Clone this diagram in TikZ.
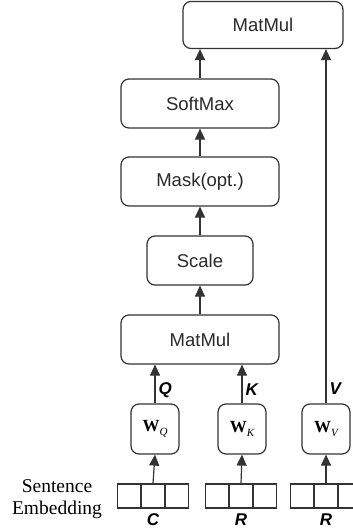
\documentclass[tikz,border=0pt]{standalone}
\usepackage{fontspec}
\setmainfont{Liberation Serif}
\setsansfont{Liberation Sans}
\usetikzlibrary{arrows.meta}
\definecolor{ink}{HTML}{333333}
\newcommand{\wsym}[1]{{\bfseries W}\raisebox{-3.5pt}{\fontsize{11}{12}\selectfont\itshape #1}}
\tikzset{
  opbox/.style={draw=ink, line width=1.2pt, rounded corners=8pt, inner sep=0pt, font=\sffamily\fontsize{18.5}{22}\selectfont, text=ink!80!black},
  wbox/.style={draw=ink, line width=1.2pt, rounded corners=8pt, inner sep=0pt, minimum width=48pt, minimum height=50pt, font=\fontsize{17}{20}\selectfont},
  cell/.style={draw=ink, line width=1.2pt, minimum width=22.7pt, minimum height=24pt, inner sep=0pt},
  flow/.style={draw=ink, line width=1.2pt, -{Triangle[width=10pt,length=11pt]}},
  vlab/.style={font=\sffamily\bfseries\itshape\fontsize{17}{20}\selectfont, inner sep=0pt},
  serlab/.style={font=\fontsize{19.5}{22}\selectfont, inner sep=0pt, anchor=base}
}
\begin{document}
\begin{tikzpicture}[x=1pt,y=-1pt]
\useasboundingbox (0,0) rectangle (353,531);
\begin{scope}
\clip (0,0) rectangle (353,531);
% operation boxes
\node[opbox, minimum width=160pt, minimum height=47pt] (mm2) at (263,25) {MatMul};
\node[opbox, minimum width=158pt, minimum height=49pt] (sm) at (200,103.5) {SoftMax};
\node[opbox, minimum width=158pt, minimum height=49pt] (mask) at (200,181.5) {Mask(opt.)};
\node[opbox, minimum width=106pt, minimum height=49pt] (scale) at (200,260.5) {Scale};
\node[opbox, minimum width=158pt, minimum height=49pt] (mm1) at (200,339.5) {MatMul};
% weight boxes
\node[wbox] (wq) at (155,429) {\wsym{Q}};
\node[wbox] (wk) at (242,429) {\wsym{K}};
\node[wbox] (wv) at (326,429) {\wsym{V}};
% embedding cells
\foreach \n/\c in {c/153, r/241, v/326}{
  \node[cell] (\n2) at (\c,496) {};
  \node[cell, anchor=east] (\n1) at (\n2.west) {};
  \node[cell, anchor=west] (\n3) at (\n2.east) {};
}
\end{scope}
% labels
\node[vlab] (lc) at (153,520) {C};
\node[vlab] (lr) at (241,520) {R};
\node[vlab] (lv) at (326,520) {R};
\node[serlab] (se1) at (57,492) {Sentence};
\node[serlab] (se2) at (57,514) {Embedding};
% connectors
\draw[flow] (c2.north) -- (wq.south);
\draw[flow] (r2.north) -- (wk.south);
\draw[flow] (v2.north) -- (wv.south);
\draw[flow] (wq.north) -- (wq.north |- mm1.south) node[vlab, pos=0.35, anchor=west, xshift=3pt] (lq) {Q};
\draw[flow] (wk.north) -- (wk.north |- mm1.south) node[vlab, pos=0.35, anchor=west, xshift=3pt] (lk) {K};
\draw[flow] (wv.north) -- (wv.north |- mm2.south) node[vlab, pos=0.03, anchor=south west, xshift=3pt, yshift=-2pt] (lvv) {V};
\draw[flow] (mm1) -- (scale);
\draw[flow] (scale) -- (mask);
\draw[flow] (mask) -- (sm);
\draw[flow] (sm.north) -- (sm.north |- mm2.south);
\end{tikzpicture}
\end{document}
